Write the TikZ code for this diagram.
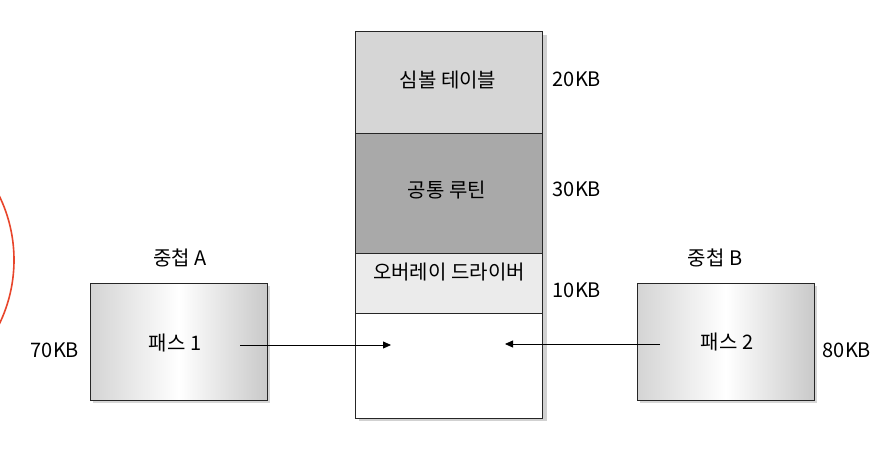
\documentclass[tikz,border=0pt]{standalone}
\usepackage{fontspec}
\setmainfont{Noto Sans CJK KR}
\usetikzlibrary{arrows.meta,shadows}
\definecolor{symc}{HTML}{D6D6D6}
\definecolor{comc}{HTML}{A9A9A9}
\definecolor{ovlc}{HTML}{EBEBEB}
\definecolor{passl}{HTML}{D4D4D4}
\definecolor{passr}{HTML}{C9C9C9}
\definecolor{redarc}{HTML}{E8452B}
\tikzset{
  memblk/.style={draw=black!85, line width=0.9pt, minimum width=187pt, inner sep=0pt},
  passbox/.style={draw=black!85, line width=0.9pt, minimum width=177pt, minimum height=117pt, inner sep=0pt,
     left color=passl, right color=passr, middle color=white,
     drop shadow={shadow xshift=2.5pt, shadow yshift=-2.5pt, fill=black!20, opacity=0.8}},
  lbl/.style={font=\fontsize{20}{22}\selectfont, inner sep=0pt},
  arr/.style={-{Triangle[length=8pt,width=7pt]}, line width=0.8pt}
}
\begin{document}
\begin{tikzpicture}[x=1pt,y=-1pt]
\useasboundingbox (0,0) rectangle (884,452);
\fill[white] (0,0) rectangle (884,452);
% red arc
\begin{scope}
\clip (0,0) rectangle (884,452);
\draw[redarc, line width=1.6pt] (-132.5,260) circle (146.5);
\end{scope}
% shadow of memory stack
\fill[black!18] (359,35) rectangle (547,421);
% memory stack
\node[memblk, fill=symc, minimum height=102pt, anchor=north west] (sym) at (355,31) {};
\node[memblk, fill=comc, minimum height=120pt, anchor=north west] (com) at (355,133) {};
\node[memblk, fill=ovlc, minimum height=60pt, anchor=north west] (ovl) at (355,253) {};
\node[memblk, fill=white, minimum height=105pt, anchor=north west] (free) at (355,313) {};
\node[lbl] (symt) at (448,80) {심볼 테이블};
\node[lbl] (comt) at (447,190) {공통 루틴};
\node[lbl] (ovlt) at (449,272) {오버레이 드라이버};
\node[lbl] (k20) at (577,79) {20KB};
\node[lbl] (k30) at (577,189) {30KB};
\node[lbl] (k10) at (577,290) {10KB};
% pass boxes
\node[passbox, anchor=north west] (p1) at (90,283) {};
\node[passbox, anchor=north west] (p2) at (637,283) {};
\node[lbl] (p1t) at (175,343) {패스 1};
\node[lbl] (p2t) at (727,342) {패스 2};
\node[lbl] (na) at (180,258) {중첩 A};
\node[lbl] (nb) at (715,258) {중첩 B};
\node[lbl] (k70) at (55,350) {70KB};
\node[lbl] (k80) at (847,350) {80KB};
% arrows
\coordinate (a1s) at (240,345);
\coordinate (a1e) at (391,345);
\coordinate (a2s) at (660,344);
\coordinate (a2e) at (505,344);
\draw[arr] (a1s) -- (a1e);
\draw[arr] (a2s) -- (a2e);
\end{tikzpicture}
\end{document}
